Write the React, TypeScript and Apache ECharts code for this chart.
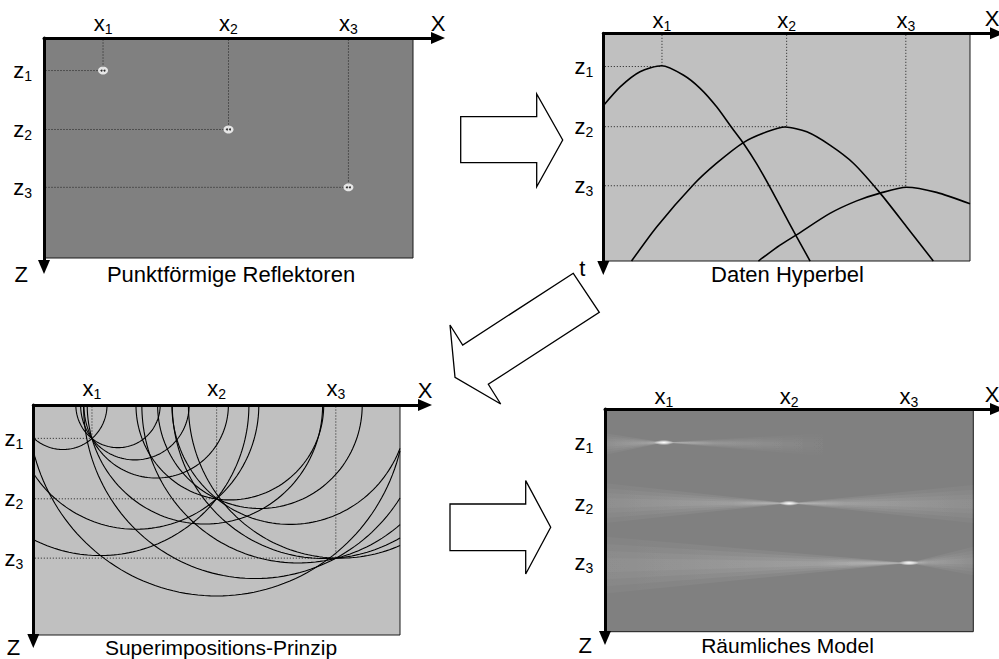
import React, { useEffect, useRef } from 'react';
import * as echarts from 'echarts';

// ---------- data (model units: x 0..100 across each panel, depth in same units) ----------
const reflectorX = [16, 50, 82.5];
const reflectorZ = [9, 25.3, 41.3];
const indexLabels = ['1', '2', '3'];

// Daten Hyperbel: picks, [x, t]
const hyperbola1 = [[0, 19.6], [4.6, 14.5], [10, 10.4], [15.9, 8.8], [21.8, 11.3], [26.4, 14.9], [30.9, 19.9], [35.5, 26.2], [38.2, 29.8], [41.8, 35.3], [45.4, 41.6], [48.7, 47.7], [52.7, 55.1], [56.4, 61.7]];
const hyperbola2 = [[7.7, 61.7], [14.6, 52.4], [24.5, 41.1], [30.9, 35.2], [38.2, 29.6], [44.6, 26.7], [49.6, 25.4], [55.5, 26.7], [61.8, 30.3], [68.2, 35.2], [75.5, 43.3], [82.7, 52.4], [90, 61.7]];
const hyperbola3 = [[42.3, 61.7], [48.2, 57.4], [52.7, 54.6], [61.8, 48.8], [69.1, 45.4], [75.5, 43.3], [82.7, 41.7], [90.9, 43.1], [100, 46.2]];

// Superimpositions-Prinzip: wavefront arcs [surface centre x, radius]
const arcsReflector1 = [[8.1, 12.0], [23.1, 11.5], [27.7, 14.8], [33.5, 19.7], [46.8, 32.1]];
const arcsReflector2 = [[18.2, 40.6], [28, 33.5], [53.6, 25.6], [61.8, 27.9], [70, 32.2]];
const arcsReflector3 = [[50, 51.5], [60.5, 46.8], [72.2, 42.6], [79.3, 41.4], [83.6, 41.3]];

// Räumliches Model: smear wedges
const wedgeLeftTop = [6.5, 19.9, 34.3];
const wedgeLeftBottom = [12.3, 30.6, 49.5];
const wedgeRightEndX = [62, 100, 100];
const wedgeRightTop = [6.4, 20.4, 37.0];
const wedgeRightBottom = [12.8, 30.6, 44.6];

// ---------- layout ----------
const FONT = '"Liberation Sans", Arial, Helvetica, sans-serif';
const ARROW_W = 12;
const ARROW_L = 14;

const panels = [
  { ox: 44, oy: 38, rw: 369, rh: 220, tipX: 445, tipY: 274, pz: 3.616, bg: '#808080', zName: 'Z', zNameGap: 7, zNamePad: 16, xNameGap: 0, xm: 2.5, zm: 12, caption: 'Punktförmige Reflektoren', capX: 231, capY: 274, capSize: 22 },
  { ox: 603.3, oy: 33.3, rw: 366.7, rh: 227.7, tipX: 1004, tipY: 275, pz: 3.691, bg: '#c0c0c0', zName: 't', zNameGap: 0.5, zNamePad: 18, xNameGap: -5, xm: 0, zm: 10, caption: 'Daten Hyperbel', capX: 787.5, capY: 274, capSize: 22 },
  { ox: 33.3, oy: 405, rw: 366.7, rh: 230, tipX: 432, tipY: 648, pz: 3.708, bg: '#c0c0c0', zName: 'Z', zNameGap: 6.5, zNamePad: 13, xNameGap: 0, xm: 4.5, zm: 10, caption: 'Superimpositions-Prinzip', capX: 221, capY: 647.5, capSize: 21 },
  { ox: 605, oy: 409, rw: 368.3, rh: 222.7, tipX: 1004, tipY: 645, pz: 3.726, bg: '#808080', zName: 'Z', zNameGap: 7, zNamePad: 13, xNameGap: -5, xm: 0, zm: 11.7, caption: 'Räumliches Model', capX: 787.5, capY: 645, capSize: 21 },
];

const blockArrows = [
  [[460.7, 116.7], [536.7, 116.7], [536.7, 94], [562.7, 140], [536.7, 186.7], [536.7, 162.7], [460.7, 162.7]],
  [[573.3, 273.3], [462.7, 345], [450, 325], [455, 377.3], [500.7, 404], [488.3, 384.3], [599.3, 312.3]],
  [[450, 504], [525.7, 504], [525.7, 480.6], [550.7, 527.3], [525.7, 574], [525.7, 550.7], [450, 550.7]],
];

const gridW = (p: any) => p.tipX - ARROW_L / 2 - p.ox;
const gridH = (p: any) => p.tipY - ARROW_L / 2 - p.oy;

const rich = {
  v: { fontFamily: FONT, fontSize: 22, color: '#000' },
  s: { fontFamily: FONT, fontSize: 14, color: '#000', padding: [11, 0, 0, 0] },
};

function nearestIndex(arr: number[], v: number) {
  let best = 0;
  for (let i = 1; i < arr.length; i++) if (Math.abs(arr[i] - v) < Math.abs(arr[best] - v)) best = i;
  return best;
}

function fade(dirX: number, a0: number, a1: number) {
  return new echarts.graphic.LinearGradient(dirX > 0 ? 0 : 1, 0, dirX > 0 ? 1 : 0, 0, [
    { offset: 0, color: `rgba(255,255,255,${a0})` },
    { offset: 0.3, color: `rgba(255,255,255,${(a0 + 2 * a1) / 3})` },
    { offset: 1, color: `rgba(255,255,255,${a1})` },
  ]);
}

function buildOption() {
  const grids = panels.map((p) => ({
    left: p.ox, top: p.oy, width: gridW(p), height: gridH(p),
    containLabel: false, outerBoundsMode: 'none', show: false,
  }));

  const xAxes = panels.map((p, i) => ({
    gridIndex: i, type: 'value', position: 'top', min: 0, max: gridW(p) / (p.rw / 100),
    name: 'X', nameLocation: 'end', nameGap: p.xNameGap, nameMoveOverlap: false,
    nameTextStyle: { fontFamily: FONT, fontSize: 22, color: '#000', align: 'center', verticalAlign: 'bottom', padding: [0, 0, 4, 0] },
    axisLine: { show: true, onZero: false, symbol: ['none', 'triangle'], symbolSize: [ARROW_W, ARROW_L], lineStyle: { color: '#000', width: 3 } },
    axisTick: { show: false }, splitLine: { show: false },
    axisLabel: {
      show: true, customValues: reflectorX, margin: p.xm,
      formatter: (v: number) => `{v|x}{s|${indexLabels[nearestIndex(reflectorX, v)]}}`,
      rich,
    },
    z: 10,
  }));

  const yAxes = panels.map((p, i) => ({
    gridIndex: i, type: 'value', position: 'left', inverse: true, min: 0, max: gridH(p) / p.pz,
    name: p.zName, nameLocation: 'end', nameGap: p.zNameGap, nameMoveOverlap: false,
    nameTextStyle: { fontFamily: FONT, fontSize: 22, color: '#000', align: 'right', verticalAlign: 'middle', padding: [0, p.zNamePad, 0, 0] },
    axisLine: { show: true, onZero: false, symbol: ['triangle', 'none'], symbolSize: [ARROW_W, ARROW_L], lineStyle: { color: '#000', width: 3 } },
    axisTick: { show: false }, splitLine: { show: false },
    axisLabel: {
      show: true, customValues: reflectorZ, margin: p.zm,
      formatter: (v: number) => `{v|z}{s|${indexLabels[nearestIndex(reflectorZ, v)]}}`,
      rich,
    },
    z: 10,
  }));

  const series: any[] = [];

  // panel backgrounds
  panels.forEach((p, i) => {
    series.push({
      type: 'custom', xAxisIndex: i, yAxisIndex: i, z: 1, silent: true,
      data: [[100, p.rh / p.pz]],
      renderItem: (_params: any, api: any) => {
        const a = api.coord([0, 0]);
        const b = api.coord([api.value(0), api.value(1)]);
        return { type: 'rect', shape: { x: a[0], y: a[1], width: b[0] - a[0], height: b[1] - a[1] }, style: { fill: p.bg, stroke: '#1a1a1a', lineWidth: 1 } };
      },
    });
  });

  const reflectorPts = reflectorX.map((x, k) => [x, reflectorZ[k]]);

  // dotted guides for panels 0..2
  [0, 1, 2].forEach((i) => {
    series.push({
      type: 'custom', xAxisIndex: i, yAxisIndex: i, z: 3, silent: true,
      data: reflectorPts,
      renderItem: (_params: any, api: any) => {
        const pt = api.coord([api.value(0), api.value(1)]);
        const top = api.coord([api.value(0), 0]);
        const left = api.coord([0, api.value(1)]);
        const st = { stroke: '#1e1e1e', lineWidth: 1, lineDash: [1, 2] };
        return {
          type: 'group', children: [
            { type: 'line', shape: { x1: top[0], y1: top[1] + 1.5, x2: pt[0], y2: pt[1] }, style: st },
            { type: 'line', shape: { x1: left[0] + 1.5, y1: left[1], x2: pt[0], y2: pt[1] }, style: st },
          ],
        };
      },
    });
  });

  // panel 1: point reflectors
  series.push({ type: 'scatter', xAxisIndex: 0, yAxisIndex: 0, z: 5, silent: true, data: reflectorPts, symbol: 'circle', symbolSize: [10, 8], itemStyle: { color: '#fff' } });
  series.push({ type: 'scatter', xAxisIndex: 0, yAxisIndex: 0, z: 6, silent: true, data: reflectorPts, symbol: 'circle', symbolSize: 2, symbolOffset: [-1.5, 0], itemStyle: { color: '#000' } });
  series.push({ type: 'scatter', xAxisIndex: 0, yAxisIndex: 0, z: 6, silent: true, data: reflectorPts, symbol: 'circle', symbolSize: 2, symbolOffset: [1.5, 0], itemStyle: { color: '#000' } });

  // panel 2: hyperbolas
  [hyperbola1, hyperbola2, hyperbola3].forEach((h) => {
    series.push({ type: 'line', xAxisIndex: 1, yAxisIndex: 1, z: 4, silent: true, data: h, smooth: 0.25, symbol: 'none', lineStyle: { color: '#000', width: 1.6 } });
  });

  // panel 3: superposition arcs
  const zRect3 = panels[2].rh / panels[2].pz;
  series.push({
    type: 'custom', xAxisIndex: 2, yAxisIndex: 2, z: 4, silent: true,
    data: [...arcsReflector1, ...arcsReflector2, ...arcsReflector3],
    renderItem: (_params: any, api: any) => {
      const c = api.value(0);
      const r = api.value(1);
      const t0 = Math.acos(Math.min(1, (100 - c) / r));
      const t1 = Math.acos(Math.max(-1, (0 - c) / r));
      const pts: number[][] = [];
      const n = 80;
      for (let k = 0; k <= n; k++) {
        const t = t0 + (t1 - t0) * (k / n);
        const z = Math.min(zRect3, r * Math.sin(t));
        pts.push(api.coord([c + r * Math.cos(t), z]));
      }
      return { type: 'polyline', shape: { points: pts }, style: { stroke: '#000', fill: 'none', lineWidth: 1.1 } };
    },
  });

  // panel 4: migrated image
  series.push({
    type: 'custom', xAxisIndex: 3, yAxisIndex: 3, z: 4, silent: true,
    data: reflectorPts.map((p, k) => [p[0], p[1], wedgeLeftTop[k], wedgeLeftBottom[k], wedgeRightEndX[k], wedgeRightTop[k], wedgeRightBottom[k]]),
    renderItem: (_params: any, api: any) => {
      const f = api.coord([api.value(0), api.value(1)]);
      const lt = api.coord([0, api.value(2)]);
      const lb = api.coord([0, api.value(3)]);
      const rt = api.coord([api.value(4), api.value(5)]);
      const rb = api.coord([api.value(4), api.value(6)]);
      const rightFar = api.value(4) < 99 ? 0 : 0.03;
      const children: any[] = [];
      const layers = [1, 0.75, 0.5, 0.25];
      layers.forEach((s) => {
        const lm = (lt[1] + lb[1]) / 2, lh = (lb[1] - lt[1]) / 2;
        const rm = (rt[1] + rb[1]) / 2, rh = (rb[1] - rt[1]) / 2;
        children.push({ type: 'polygon', shape: { points: [f, [lt[0], lm - s * lh], [lb[0], lm + s * lh]] }, style: { fill: fade(-1, 0.14, 0.03) } });
        children.push({ type: 'polygon', shape: { points: [f, [rt[0], rm - s * rh], [rb[0], rm + s * rh]] }, style: { fill: fade(1, 0.14, rightFar) } });
      });
      const spot = new echarts.graphic.RadialGradient(0.5, 0.5, 0.5, [
        { offset: 0, color: 'rgba(255,255,255,1)' },
        { offset: 0.45, color: 'rgba(255,255,255,0.65)' },
        { offset: 1, color: 'rgba(255,255,255,0)' },
      ]);
      children.push({ type: 'ellipse', shape: { cx: f[0], cy: f[1], rx: 10, ry: 2.6 }, style: { fill: spot } });
      return { type: 'group', children };
    },
  });

  const graphic: any[] = [];
  blockArrows.forEach((pts) => {
    graphic.push({ type: 'polygon', shape: { points: pts }, style: { fill: '#fff', stroke: '#000', lineWidth: 1.3 }, z: 1 });
  });
  panels.forEach((p) => {
    graphic.push({ type: 'text', x: p.capX, y: p.capY, style: { text: p.caption, fontFamily: FONT, fontSize: p.capSize, fill: '#000', align: 'center', verticalAlign: 'middle' }, z: 20 });
  });

  return {
    animation: false,
    backgroundColor: '#fff',
    textStyle: { fontFamily: FONT },
    grid: grids,
    xAxis: xAxes,
    yAxis: yAxes,
    series,
    graphic: { elements: graphic },
  };
}

export default function App() {
  const ref = useRef<HTMLDivElement>(null);
  useEffect(() => {
    if (!ref.current) return;
    const chart = echarts.init(ref.current, null, { renderer: 'svg' });
    chart.setOption(buildOption() as any);
    return () => chart.dispose();
  }, []);
  return <div ref={ref} style={{ position: 'fixed', left: 0, top: 0, width: 999, height: 659, background: '#fff' }} />;
}
